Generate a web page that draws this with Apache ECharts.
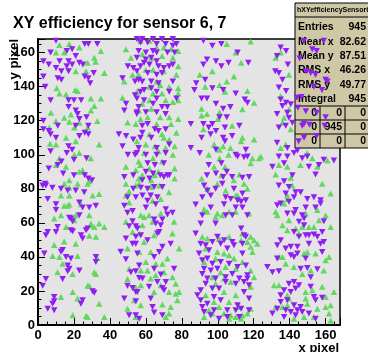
<!DOCTYPE html>
<html><head><meta charset="utf-8">
<script src="https://cdn.jsdelivr.net/npm/echarts@6/dist/echarts.min.js"></script>
<style>html,body{margin:0;padding:0;background:#fff;}#c{width:368px;height:352px;}</style>
</head><body><div id="c"></div>
<script>
const titleText = 'XY efficiency for sensor 6, 7';
const xName = 'x pixel';
const yName = 'y pixel';
const xMin = 0, xMax = 168, yMin = 0, yMax = 168, tickStep = 20;

const purpleDown = [
[10,167],[26,165],[28,165],[33,165],[7,160],[19,162],[16,161],[21,158],[3,155],[6,153],[12,155],[17,155],[23,154],[25,153],[10,151],[16,152],[19,153],[13,149],[17,149],[3,146],[11,145],[13,144],[26,146],[28,145],[31,148],[29,142],[4,140],[7,132],[17,132],[20,132],[24,132],[17,128],[21,126],[22,124],[27,122],[23,121],[3,120],[11,117],[21,117],[28,117],[3,115],[6,114],[26,113],[28,112],[23,111],[7,112],[10,110],[17,105],[19,103],[16,101],[7,102],[13,96],[20,97],[27,98],[6,92],[11,94],[14,89],[20,88],[26,88],[28,86],[30,85],[4,83],
[50,152],[53,151],[47,145],[54,143],[49,130],[54,135],[48,126],[55,125],[45,112],[49,111],[53,109],[47,105],[50,100],[54,100],[48,87],[53,88],
[55,168],[58,168],[64,168],[69,168],[75,168],[57,166],[61,166],[66,165],[71,165],[75,164],[77,165],[56,161],[60,160],[64,161],[66,160],[72,160],[76,160],[55,157],[60,156],[63,157],[66,155],[59,154],[57,152],[62,153],[67,152],[70,151],[73,152],[75,153],[55,149],[61,148],[66,147],[69,148],[58,143],[56,144],[63,143],[75,143],[67,142],[59,138],[57,137],[66,137],[73,137],[63,139],[55,133],[59,132],[66,133],[77,133],[56,128],[64,130],[69,128],[72,128],[60,125],[66,125],[71,124],[55,124],[58,117],[61,118],[65,115],[67,114],[71,115],[58,113],[57,110],[63,110],[56,104],[66,104],[73,106],[55,101],[60,100],[66,100],[71,101],[61,95],[65,94],[70,95],[60,90],[64,89],[68,88],[72,88],[73,88],[70,87],[58,85],[62,86],
[92,167],[97,164],[102,165],[94,156],[99,155],[92,153],[102,152],[106,154],[88,142],[93,144],[87,138],[97,139],[91,133],[94,133],[103,138],[110,136],[99,130],[103,127],[107,128],[85,118],[92,118],[101,122],[97,118],[105,122],[95,116],[99,114],[104,116],[91,110],[96,112],[103,110],[108,111],[85,104],[90,101],[99,103],[110,100],[104,108],[95,94],[102,95],[94,88],[99,89],[105,90],[103,87],[108,87],
[111,160],[117,154],[138,161],[135,163],[133,158],[134,148],[132,149],[136,144],[139,153],[134,139.5],[138,137.5],[115,132.5],[116.5,130.6],[135,132.5],[136,128.6],[138,130.6],[140.6,129.6],[133,124],[138.7,124.7],[139.6,121.8],[112,117],[137.8,117],[134,116],[141.5,118.8],[115.6,103],[111,99],[114.6,98.6],[116.5,99],[133,107],[138.7,104],[142.4,101],[134,99],[138.7,99],[130.4,93],[136.9,95],[113.7,86.5],[117.4,87],[141.5,88],[136.9,84.5],
[144.3,102.5],[149.8,99],[147,98],[154.4,88.4],[159,97],[164.6,96.7],[150.7,93],[156.3,94],
[159,167],[152.6,162],[155,161],[149,149],[151.7,148],[154.4,147],[160,144],[153.5,140],[158,138],[144,133.5],[160,122],[147,117],[148,118],[155,111],[148,110],[145,108],[148,167],[145.6,156.5],[161,143],[146.5,134],[144.6,127.6],[149,125.5],[155,124.7],[151,117.6],[159.5,117],
[2.6,82],[4.4,82],[8,80.6],[12.8,80],[16.5,79],[21,79],[25.7,78],[5.4,74],[10,71],[23,72],[24.8,69],[32.2,70],[28.5,69],[10,67.5],[18.3,62.5],[19.3,61],[17.4,63],[23,64.5],[27.6,56.7],[26.7,55.7],[19.3,55],[18.3,55.7],[23.9,52.7],[24.8,50.8],[10.9,57.6],[10,54.7],[5.4,54.7],[4.4,52.7],[3.5,42],[13.7,44],[12.8,43],[15.6,40],[18.3,39],[32.2,40],[32.2,37],[16.5,35],[17.4,33],[23,32],[16.5,31.6],[13.7,27],[4.4,27],[2.6,23],[30.4,19.8],[31.3,19],[9,16.5],[9,14],[8.1,12.5],[24.8,14.5],[23.9,12.5],[5.4,9.6],[9,8.6],
[49.8,75],[53,80],[54.4,75],[48,70],[49.8,66],[52.6,67],[52.6,61],[50.7,58],[54.4,58],[54.4,51.8],[48.9,50.8],[52.6,47.8],[46,43],[54.4,47.8],[48.9,38.6],[51.7,31],[54.4,31.6],[49.8,23],[52.6,21.8],[48,15.5],[54.4,19.4],[50.7,5.7],[54.4,5.7],[54.4,14],
[57.2,80.6],[60.9,80],[64.6,81],[69.2,81],[58.1,76],[62.7,76],[66.4,75],[60.9,73],[65.5,71],[60,69],[71.1,68],[74.8,66],[72,64.9],[69.2,62],[64.6,62],[65.5,59.6],[68.3,58.6],[67.4,54.7],[66.4,53.7],[55.3,56.7],[57.2,52.7],[60.9,49.8],[73.8,47.8],[69.2,45.9],[67.4,42.9],[55.3,42],[64.6,40],[56.3,35],[64.6,33],[75.7,33],[68.3,29.6],[56.3,27.6],[58.1,27.3],[66.4,25.3],[71.1,25.3],[61.8,22.4],[69.2,21.8],[70.1,20.4],[55.3,19.4],[62.7,15.5],[63.7,10.6],[64.6,7.3],[69.2,5.7],[56.3,3.7],
[92.4,82],[98.8,80],[94.2,79],[102.5,83],[109,80],[91.4,75],[96.1,76],[104.4,75],[107.2,74],[87.7,70.8],[96.1,69],[103.5,71],[110,69],[91.4,64.5],[98.8,59.6],[104.4,64.5],[108.1,64.5],[90.5,59.6],[87.7,53.7],[90.5,47.8],[93.3,46.9],[97,48.8],[101.6,47.8],[103.5,49.8],[108.1,48.8],[109,46.9],[99.8,51.8],[105.3,44.9],[95.1,43.9],[89.6,42],[91.4,38],[94.2,39],[97,36],[101.6,37],[106.3,36],[92.4,33],[96.1,32],[99.8,33],[91.4,30],[94.2,27.3],[98.8,27.3],[104.4,28],[108.1,30],[93.3,24.3],[97,21.4],[100.7,21.4],[90.5,20.4],[104.4,25.3],[110,24.3],[88.7,17.5],[97.9,16.5],[101.6,14.5],[94.2,12.5],[91.4,10.6],[92.4,7.6],[97.9,8.6],[96.1,5.7],[105.3,8.6],[110,8.6],[100.7,3.7],[105.3,4.7],[90.5,14.5],
[113.7,77.3],[113,72.4],[111,73.3],[115.6,73.3],[113.7,69],[116.5,64.5],[113,56.7],[114.6,52.7],[115.6,51.8],[113.7,47.8],[113.7,42],[115.6,35],[111,34],[116.5,29.2],[112,27.3],[114.6,25.3],[116.5,27.3],[117.4,23.3],[114.6,19.4],[117.4,15.5],[111,11.6],[113,9.6],[117.4,8.6],[112,4.7],
[134,82],[139.6,81],[137.8,77.3],[143.3,78],[146.1,78],[142.4,75],[149.8,74],[153.5,75],[157.2,73.3],[157.2,71.4],[154.4,69],[139.6,72.4],[133.1,70.4],[135,71.4],[148.9,69],[143.3,67.5],[138.7,65.5],[142.4,65.5],[147,64.5],[148,62.5],[145.2,60.6],[148,58.6],[159,61],[158.1,54.7],[150.7,52.7],[153.5,53.1],[155.4,51.8],[148.9,52.7],[142.4,54.7],[145.2,51.8],[159,48.8],[157.2,47.8],[150.7,47.8],[158.1,42.9],[135,49.8],[133.1,46.9],[137.8,44.9],[140.6,45.9],[144.3,45.9],[140.6,41],[142.4,40],[144.3,42],[148.9,39],[133.1,39],[127.6,34],[130.4,31],[134,31.6],[146.1,33],[149.8,33.5],[155.4,32.7],[151.7,28],[142.4,25.3],[139.6,24.3],[145.2,23.3],[136.9,20.4],[135,17.5],[140.6,19.4],[143.3,21.4],[151.7,22.4],[153.5,16.5],[154.4,14.5],[158.1,16],[135,13.5],[138.7,14.5],[142.4,11.6],[146.1,10.6],[133.1,9.6],[137.8,8.6],[140.6,7.6],[144.3,8.6],[130.4,6.7],[143.3,5.7],[136.9,4.7],[154.4,3.7],[150.7,6.7],[147,7.6]
];

const greenUp = [
[11.9,164.5],[17.4,165],[23,163],[35,161],[10,160],[14.6,160],[27.6,154],[31.3,157],[32,154.7],[36.9,148],[21,149],[26.7,149],[10.4,139],[11.9,136],[20.7,138],[22,137.5],[15.6,135.5],[29.4,133],[35,133],[7.2,124.7],[14.6,121.8],[18.3,123.7],[29.4,126],[31.3,128.6],[10,119.8],[17.4,119.4],[23,118.8],[33,119.8],[6.3,116],[20.2,116],[27.6,116],[6.7,106.5],[10,106],[15.6,110],[21,108],[34,106],[23,101],[20.2,100],[11.9,98],[29.4,98],[10,94],[15.6,93],[23,90],[24.8,91],[17.4,85],[28.5,84.5],
[48.9,162],[51.7,157],[48,143],[52.6,147],[47,133.5],[49.8,119],[54.4,118],[48.9,93],[54.4,91],
[57,167],[62,167],[66,163],[70,163],[74,162],[78,161],[58,159],[63,157],[69,158],[75,157],[78,152],[64,150],[60,150],[70,149],[77,147],[56,147],[66,143],[62,140],[68,141],[73,140],[78,139],[55,137],[64,136],[69,136],[78,136],[62,132],[58,130],[71,132],[75,131],[78,132],[56,126],[63,127],[68,122],[73,122],[78,121],[57,121],[61,122],[66,118],[74,118],[77,113],[62,112],[69,112],[70,110],[73,109],[55,108],[60,106],[65,105],[71,104],[76,105],[59,101],[67,102],[75,100],[56,96],[64,98],[69,96],[57,94],[62,92],[76,92],[58,88],[65,88],[67,90],[56,86],[63,85],[76,86],
[105,165],[110,160],[90,147],[97,149],[105,143],[109,146],[93,140],[101,141],[104,137],[91,127],[94,124],[91,123],[101,125],[100,121],[108,117],[92,115],[98,106],[103,105],[107,104],[101,103],[95,100],[101,98],[106,100],[98,93],[104,93],[102,88],[91,86],[109,85],
[118.3,166.5],[113,154],[132.2,157],[135,160],[139.6,147],[116.5,137.5],[120.2,130.6],[113.7,126.7],[135,134.5],[139.6,126.7],[136.9,121.8],[136,119],[140.6,115],[113,108],[120.2,109],[113.7,110],[137.8,106],[135,104],[119.3,98],[123,98],[123.9,99],[118.3,95],[134,94],[138.7,93],[112,88.4],[132.2,88.4],[140.6,86.5],
[149.8,101],[152.6,98],[161,96.7],[146,94],[155.4,93],
[14.6,83],[22,83],[27.6,83],[17.4,80.6],[12.8,76],[17.4,76],[30.4,76],[34,77],[14.6,70],[16.5,70],[17.4,70.8],[23.9,71],[9,62.5],[12.8,64.5],[21,64.5],[28.5,64.5],[20.2,61.6],[29.4,59.6],[31.3,57.6],[34,59.6],[36.9,57.6],[15.6,57.6],[32.2,51.8],[14.6,49],[21,47.8],[28.5,52.4],[29.4,58.6],[9,47],[8.1,40.6],[11.9,40],[22,40.6],[33,39.4],[13.7,36],[10.9,31],[19.3,30],[31.3,31],[32.2,30],[28.5,23],[27.6,23],[19.3,19.4],[12.8,16.5],[22,15.5],[34,12.5],[19.3,5.7],[26.7,5.3],[27.6,4.7],[36.9,4.7],
[48.9,83],[54.4,82],[50.7,78.6],[48.9,76],[50.7,72],[48.9,60.6],[52.6,54.7],[49.8,45],[50.7,33],[49.8,27],[54.4,22],[53.5,14.5],[49.8,9.6],[54.4,4.7],
[56.3,83],[62.7,81],[67.4,82],[72.9,78],[63.7,73],[68.3,74],[57.2,64.5],[59,63.5],[61.8,64.5],[68.3,65.5],[58.1,58.6],[63.7,60.6],[75.7,60.6],[56.3,53.7],[74.8,53.7],[64.6,52.7],[59,48.8],[78.5,44.9],[56.3,42.9],[62.7,42.9],[72,39],[60,37],[65.5,36],[69.2,36],[57.2,32],[60.9,32],[70.1,31],[74.8,28],[65.5,29.2],[62.7,27.3],[76.6,24.3],[57.2,23.3],[68.3,23.3],[64.6,19.4],[72.9,19.4],[78.5,19.4],[76.6,18.4],[77.5,14.5],[57.2,11.6],[69.2,12],[73.8,10.6],[72.9,6.7],[71.1,4.7],
[94.2,80],[99.8,83],[104.4,79],[110,76],[92.4,68],[94.2,66.5],[99.8,65.5],[98.8,63.5],[102.5,64.5],[106.3,66.5],[110,66.5],[91.4,51.8],[94.2,50.8],[100.7,50.8],[106.3,51.8],[93.3,44.9],[99.8,42.9],[103.5,42],[106.3,41],[109,39],[98.8,39],[104.4,34],[110,33],[92.4,37],[101.6,31],[97,28],[103.5,27.3],[107.2,25.3],[98.8,24.3],[103.5,19.4],[110,17.5],[93.3,17.5],[97.9,13.5],[106.3,13.5],[100.7,10.6],[95.1,8.6],[97,6.7],[103.5,6.7],[107.2,5.7],[92.4,4.7],[110,4.7],[106.3,3.7],
[114.6,83],[116.5,80],[111,76],[112,74],[117.4,65.5],[113.7,53.7],[118.3,51.8],[113,49.8],[116.5,48.8],[120.2,49.8],[122,47.8],[118.3,45.9],[119.3,42.9],[113.7,37],[118.3,32],[120.2,28],[118.3,22.4],[112,10.6],[118.3,9.6],[116.5,6.7],[113.7,5.7],[113,3.7],
[158.1,83],[162.8,77.3],[141.5,82],[138.7,76],[136.9,71.4],[138.7,74],[132.2,66.5],[133.1,64.5],[139.6,61.6],[148.9,65.5],[155.4,67.5],[160,64.5],[150.7,57.6],[156.3,61.6],[162.8,57.6],[136,58.6],[138.7,55.7],[143.3,56.7],[147,57.6],[145.2,53.7],[153.5,57.6],[134,40],[136,40],[148,42],[149.8,42.9],[154.4,42],[160,38],[161.9,40],[137.8,36],[142.4,34],[147,30],[151.7,32],[159,32],[131.3,23.3],[134,23.3],[138.7,17.5],[139.6,15.5],[132.2,10.6],[136,10.6],[138.7,11.6],[148.9,19.4],[152.6,20.4],[158.1,22.4],[160,16.5],[148.9,15.5],[149.8,12.5],[155.4,9.6],[160,10.6],[162.8,11.6],[148,4.7],[153.5,4.7],[161.9,6.7],[164.6,19.4],[162.8,2.7],[142.4,3.7]
];

const statName = 'hXYefficiencySensor6_7';
const statLabels = ['Entries', 'Mean x', 'Mean y', 'RMS x', 'RMS y', 'Integral'];
const statValues = ['945', '82.62', '87.51', '46.26', '49.77', '945'];
const cellValues = [['0', '0', '0'], ['0', '945', '0'], ['0', '0', '0']];

const FONT = '"Liberation Sans", Arial, Helvetica, sans-serif';
const chart = echarts.init(document.getElementById('c'), null, {renderer: 'canvas'});

const box = {x: 295, y: 3, w: 80, h: 145};
const graphics = [];
graphics.push({type: 'rect', z: 30, shape: {x: box.x, y: box.y, width: box.w, height: box.h},
  style: {fill: '#cfc8a6', stroke: '#000', lineWidth: 1}});
graphics.push({type: 'line', z: 31, shape: {x1: box.x, y1: 17, x2: 368, y2: 17}, style: {stroke: '#000', lineWidth: 1}});
graphics.push({type: 'text', z: 32, x: 297, y: 10.5,
  style: {text: statName, font: 'bold 7px ' + FONT, fill: '#000', align: 'left', verticalAlign: 'middle'}});
statLabels.forEach((lab, i) => {
  const yy = 27.5 + i * 14.3;
  graphics.push({type: 'text', z: 32, x: 298, y: yy,
    style: {text: lab, font: 'bold 10.5px ' + FONT, fill: '#000', align: 'left', verticalAlign: 'middle'}});
  graphics.push({type: 'text', z: 32, x: 366, y: yy,
    style: {text: statValues[i], font: 'bold 10.5px ' + FONT, fill: '#000', align: 'right', verticalAlign: 'middle'}});
});
const rowLines = [106, 120, 134];
rowLines.forEach(yy => graphics.push({type: 'line', z: 31, shape: {x1: box.x, y1: yy, x2: 368, y2: yy}, style: {stroke: '#000', lineWidth: 1}}));
[320, 345].forEach(xx => graphics.push({type: 'line', z: 31, shape: {x1: xx, y1: 106, x2: xx, y2: 148}, style: {stroke: '#000', lineWidth: 1}}));
const colRight = [317, 342, 366];
cellValues.forEach((row, r) => row.forEach((v, c) => {
  graphics.push({type: 'text', z: 32, x: colRight[c], y: 113 + r * 14,
    style: {text: v, font: 'bold 10.5px ' + FONT, fill: '#000', align: 'right', verticalAlign: 'middle'}});
}));
graphics.push({type: 'text', z: 5, x: 14, y: 39, rotation: Math.PI / 2,
  style: {text: yName, font: 'bold 13px ' + FONT, fill: '#000', align: 'right', verticalAlign: 'middle'}});
graphics.push({type: 'text', z: 5, x: 339, y: 342,
  style: {text: xName, font: 'bold 13px ' + FONT, fill: '#000', align: 'right', verticalAlign: 'top'}});

const axisCommon = {
  type: 'value', interval: tickStep,
  axisLine: {show: true, lineStyle: {color: '#000', width: 2}},
  axisTick: {show: true, inside: true, length: 7, lineStyle: {color: '#000', width: 1}},
  minorTick: {show: true, splitNumber: 4, length: 3.5, lineStyle: {color: '#000', width: 1}},
  splitLine: {show: false},
  minorSplitLine: {show: false}
};

chart.setOption({
  animation: false,
  backgroundColor: '#fff',
  title: {text: titleText, left: 13, top: 16, padding: 0,
    textStyle: {fontFamily: FONT, fontWeight: 'bold', fontSize: 16, color: '#000'}},
  grid: {left: 38, right: 28, top: 39, bottom: 27, show: true, backgroundColor: '#e4e4e4',
    borderColor: '#000', borderWidth: 1.5, outerBoundsMode: 'none'},
  xAxis: Object.assign({}, axisCommon, {min: xMin, max: xMax,
    axisLabel: {showMaxLabel: false, margin: 4, fontFamily: FONT, fontWeight: 'bold', fontSize: 13, color: '#000'}}),
  yAxis: Object.assign({}, axisCommon, {min: yMin, max: yMax,
    axisLabel: {showMaxLabel: false, margin: 3, fontFamily: FONT, fontWeight: 'bold', fontSize: 13, color: '#000'}}),
  graphic: {elements: graphics},
  series: [
    {type: 'scatter', name: 'green', data: greenUp, z: 10, symbol: 'triangle', symbolSize: [6.5, 6],
      itemStyle: {color: '#62d862', opacity: 1}, silent: true},
    {type: 'scatter', name: 'purple', data: purpleDown, z: 50, symbol: 'triangle', symbolRotate: 180, symbolSize: [6.5, 6],
      itemStyle: {color: '#8f1ff0', opacity: 1}, silent: true}
  ]
});
</script></body></html>
